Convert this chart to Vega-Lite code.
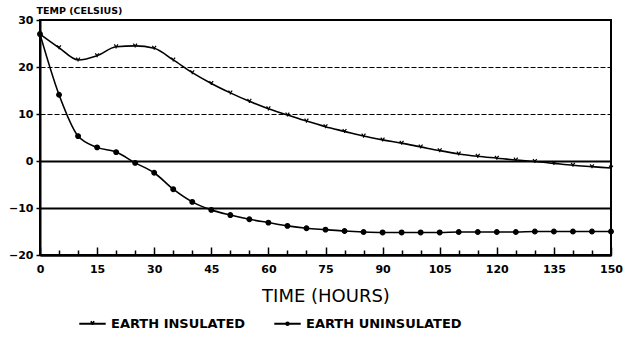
{
  "$schema": "https://vega.github.io/schema/vega-lite/v6.json",
  "autosize": {"type": "none"},
  "width": 571,
  "height": 235,
  "padding": {"left": 40, "top": 20, "right": 13, "bottom": 84},
  "background": "white",
  "config": {
    "view": {"stroke": "black", "strokeWidth": 2},
    "font": "DejaVu Sans"
  },
  "data": {
    "values": [
      {"t": 0, "temp": 27.0, "series": "EARTH INSULATED"},
      {"t": 5, "temp": 24.1, "series": "EARTH INSULATED"},
      {"t": 10, "temp": 21.5, "series": "EARTH INSULATED"},
      {"t": 15, "temp": 22.4, "series": "EARTH INSULATED"},
      {"t": 20, "temp": 24.3, "series": "EARTH INSULATED"},
      {"t": 25, "temp": 24.5, "series": "EARTH INSULATED"},
      {"t": 30, "temp": 24.0, "series": "EARTH INSULATED"},
      {"t": 35, "temp": 21.5, "series": "EARTH INSULATED"},
      {"t": 40, "temp": 18.8, "series": "EARTH INSULATED"},
      {"t": 45, "temp": 16.5, "series": "EARTH INSULATED"},
      {"t": 50, "temp": 14.5, "series": "EARTH INSULATED"},
      {"t": 55, "temp": 12.7, "series": "EARTH INSULATED"},
      {"t": 60, "temp": 11.1, "series": "EARTH INSULATED"},
      {"t": 65, "temp": 9.8, "series": "EARTH INSULATED"},
      {"t": 70, "temp": 8.5, "series": "EARTH INSULATED"},
      {"t": 75, "temp": 7.3, "series": "EARTH INSULATED"},
      {"t": 80, "temp": 6.3, "series": "EARTH INSULATED"},
      {"t": 85, "temp": 5.3, "series": "EARTH INSULATED"},
      {"t": 90, "temp": 4.5, "series": "EARTH INSULATED"},
      {"t": 95, "temp": 3.8, "series": "EARTH INSULATED"},
      {"t": 100, "temp": 3.0, "series": "EARTH INSULATED"},
      {"t": 105, "temp": 2.2, "series": "EARTH INSULATED"},
      {"t": 110, "temp": 1.5, "series": "EARTH INSULATED"},
      {"t": 115, "temp": 1.0, "series": "EARTH INSULATED"},
      {"t": 120, "temp": 0.6, "series": "EARTH INSULATED"},
      {"t": 125, "temp": 0.2, "series": "EARTH INSULATED"},
      {"t": 130, "temp": -0.1, "series": "EARTH INSULATED"},
      {"t": 135, "temp": -0.5, "series": "EARTH INSULATED"},
      {"t": 140, "temp": -0.9, "series": "EARTH INSULATED"},
      {"t": 145, "temp": -1.2, "series": "EARTH INSULATED"},
      {"t": 150, "temp": -1.5, "series": "EARTH INSULATED"},
      {"t": 0, "temp": 27.0, "series": "EARTH UNINSULATED"},
      {"t": 5, "temp": 14.1, "series": "EARTH UNINSULATED"},
      {"t": 10, "temp": 5.3, "series": "EARTH UNINSULATED"},
      {"t": 15, "temp": 2.9, "series": "EARTH UNINSULATED"},
      {"t": 20, "temp": 1.9, "series": "EARTH UNINSULATED"},
      {"t": 25, "temp": -0.4, "series": "EARTH UNINSULATED"},
      {"t": 30, "temp": -2.5, "series": "EARTH UNINSULATED"},
      {"t": 35, "temp": -6.0, "series": "EARTH UNINSULATED"},
      {"t": 40, "temp": -8.7, "series": "EARTH UNINSULATED"},
      {"t": 45, "temp": -10.4, "series": "EARTH UNINSULATED"},
      {"t": 50, "temp": -11.5, "series": "EARTH UNINSULATED"},
      {"t": 55, "temp": -12.4, "series": "EARTH UNINSULATED"},
      {"t": 60, "temp": -13.1, "series": "EARTH UNINSULATED"},
      {"t": 65, "temp": -13.8, "series": "EARTH UNINSULATED"},
      {"t": 70, "temp": -14.3, "series": "EARTH UNINSULATED"},
      {"t": 75, "temp": -14.6, "series": "EARTH UNINSULATED"},
      {"t": 80, "temp": -14.9, "series": "EARTH UNINSULATED"},
      {"t": 85, "temp": -15.1, "series": "EARTH UNINSULATED"},
      {"t": 90, "temp": -15.2, "series": "EARTH UNINSULATED"},
      {"t": 95, "temp": -15.2, "series": "EARTH UNINSULATED"},
      {"t": 100, "temp": -15.2, "series": "EARTH UNINSULATED"},
      {"t": 105, "temp": -15.2, "series": "EARTH UNINSULATED"},
      {"t": 110, "temp": -15.1, "series": "EARTH UNINSULATED"},
      {"t": 115, "temp": -15.1, "series": "EARTH UNINSULATED"},
      {"t": 120, "temp": -15.1, "series": "EARTH UNINSULATED"},
      {"t": 125, "temp": -15.1, "series": "EARTH UNINSULATED"},
      {"t": 130, "temp": -15.0, "series": "EARTH UNINSULATED"},
      {"t": 135, "temp": -15.0, "series": "EARTH UNINSULATED"},
      {"t": 140, "temp": -15.0, "series": "EARTH UNINSULATED"},
      {"t": 145, "temp": -15.0, "series": "EARTH UNINSULATED"},
      {"t": 150, "temp": -15.0, "series": "EARTH UNINSULATED"}
    ]
  },
  "encoding": {
    "x": {
      "field": "t",
      "type": "quantitative",
      "scale": {"domain": [0, 150], "nice": false, "zero": false},
      "axis": {
        "title": "TIME (HOURS)",
        "titleFont": "DejaVu Sans",
        "titleFontSize": 18,
        "titleFontWeight": "normal",
        "titleColor": "black",
        "titlePadding": 10,
        "values": [0,5,10,15,20,25,30,35,40,45,50,55,60,65,70,75,80,85,90,95,100,105,110,115,120,125,130,135,140,145,150],
        "labelExpr": "datum.value % 15 === 0 ? datum.label : ''",
        "labelOverlap": false,
        "labelFontSize": 11,
        "labelFontWeight": "bold",
        "labelColor": "black",
        "labelPadding": 16,
        "labelFlush": false,
        "tickSize": {"condition": {"test": "datum.value % 15 === 0", "value": -8}, "value": -5},
        "tickColor": "black",
        "tickWidth": 1.5,
        "domainColor": "black",
        "domainWidth": 2,
        "grid": false
      }
    },
    "y": {
      "field": "temp",
      "type": "quantitative",
      "scale": {"domain": [-20, 30], "nice": false, "zero": false},
      "axis": {
        "title": "TEMP (CELSIUS)",
        "titleAngle": 0,
        "titleAlign": "left",
        "titleBaseline": "bottom",
        "titleX": -4,
        "titleY": -5,
        "titleFontSize": 9.5,
        "titleFontWeight": "bold",
        "titleColor": "black",
        "values": [-20, -10, 0, 10, 20, 30],
        "labelFontSize": 11,
        "labelFontWeight": "bold",
        "labelColor": "black",
        "labelPadding": 3,
        "tickSize": 4,
        "tickColor": "black",
        "tickWidth": 1.5,
        "domainColor": "black",
        "domainWidth": 2,
        "grid": true,
        "gridColor": "black",
        "gridOpacity": 1,
        "gridWidth": {"condition": {"test": "datum.value >= 10", "value": 1.2}, "value": 2},
        "gridDash": {"condition": {"test": "datum.value >= 10", "value": [5, 2]}, "value": []}
      }
    }
  },
  "layer": [
    {
      "mark": {"type": "line", "interpolate": "monotone", "color": "black", "strokeWidth": 1.6},
      "encoding": {"detail": {"field": "series", "type": "nominal"}}
    },
    {
      "mark": {"type": "point", "filled": true, "color": "black", "stroke": "black", "strokeWidth": 1.2, "opacity": 1, "size": 22},
      "encoding": {
        "shape": {
          "field": "series",
          "type": "nominal",
          "scale": {
            "domain": ["EARTH INSULATED", "EARTH UNINSULATED"],
            "range": ["M0,0L-0.8,-1M0,0L0.8,-1M0,0L0,0.7", "circle"]
          },
          "legend": null
        }
      }
    },
    {
      "transform": [{"filter": "datum.t < 0"}],
      "mark": {"type": "point", "filled": false, "color": "black", "strokeWidth": 1.6, "opacity": 1},
      "encoding": {
        "shape": {
          "field": "series",
          "type": "nominal",
          "scale": {
            "domain": ["EARTH INSULATED", "EARTH UNINSULATED"],
            "range": ["M-1,0L1,0M0,0L-0.12,-0.18M0,0L0.12,-0.18M0,0L0,0.1", "M-1,0L1,0M0.1,0A0.1,0.1 0 1 1 -0.1,0A0.1,0.1 0 1 1 0.1,0Z"]
          },
          "legend": {
            "title": null,
            "orient": "none",
            "legendX": 38,
            "legendY": 289,
            "direction": "horizontal",
            "columnPadding": 24,
            "symbolSize": 700,
            "symbolStrokeColor": "black",
            "symbolStrokeWidth": 1.8,
            "symbolOpacity": 1,
            "labelFontSize": 13,
            "labelFontWeight": "bold",
            "labelColor": "black",
            "labelOffset": 4,
            "labelLimit": 300
          }
        }
      }
    }
  ],
  "resolve": {"scale": {"shape": "independent"}, "legend": {"shape": "independent"}}
}
